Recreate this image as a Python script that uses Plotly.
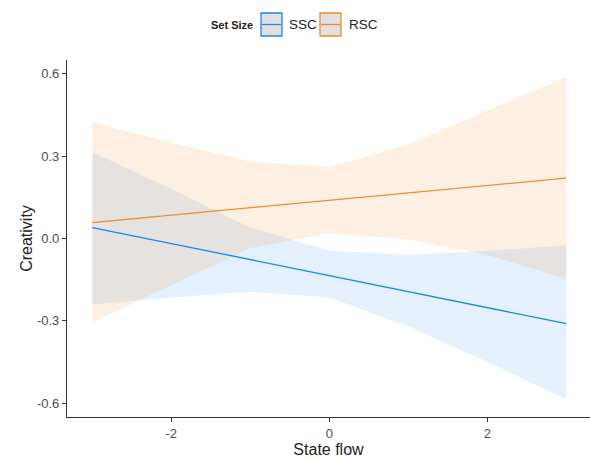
import plotly.graph_objects as go

# ---- data ----
x_vals = [-3, -2, -1, 0, 1, 2, 3]

ssc_fit = [0.040, -0.018, -0.077, -0.135, -0.193, -0.252, -0.310]
ssc_upper = [0.315, 0.180, 0.040, -0.045, -0.060, -0.045, -0.025]
ssc_lower = [-0.240, -0.215, -0.195, -0.215, -0.320, -0.450, -0.585]

rsc_fit = [0.058, 0.085, 0.112, 0.139, 0.166, 0.193, 0.220]
rsc_upper = [0.423, 0.350, 0.280, 0.260, 0.342, 0.465, 0.588]
rsc_lower = [-0.305, -0.170, -0.035, 0.020, -0.004, -0.060, -0.147]

y_ticks = [-0.6, -0.3, 0.0, 0.3, 0.6]
x_ticks = [-2, 0, 2]

legend_title = "Set Size"
groups = [
    ("SSC", ssc_fit, ssc_lower, ssc_upper, "#1E88E5", "rgba(30,136,229,0.12)"),
    ("RSC", rsc_fit, rsc_lower, rsc_upper, "#F28A2E", "rgba(245,135,40,0.13)"),
]

W, H = 590, 459
L, R, T, B = 67, 0, 60, 42
PW, PH = W - L - R, H - T - B


def px_x(p):
    return (p - L) / PW


def px_y(p):
    return (H - B - p) / PH


fig = go.Figure()

for name, fit, lo, up, col, fill in groups:
    fig.add_trace(go.Scatter(
        x=x_vals + x_vals[::-1], y=up + lo[::-1],
        fill="toself", fillcolor=fill, line=dict(width=0),
        mode="lines", hoverinfo="skip", showlegend=False,
    ))

for name, fit, lo, up, col, fill in groups:
    fig.add_trace(go.Scatter(
        x=x_vals, y=fit, mode="lines", name=name,
        line=dict(color=col, width=1.3), showlegend=False,
    ))

axis_common = dict(
    showgrid=False, zeroline=False, showline=True,
    linecolor="#333333", linewidth=1.2,
    ticks="outside", ticklen=4, tickcolor="#333333",
    tickfont=dict(family="Liberation Sans, Arial", size=13, color="#4D4D4D"),
    automargin=False,
)

# ---- legend drawn manually (ggplot-style keys) ----
shapes = []
annotations = [dict(
    x=px_x(209), y=px_y(25), xref="paper", yref="paper",
    xanchor="left", yanchor="middle", showarrow=False,
    text=f"<b>{legend_title}</b>",
    font=dict(family="Liberation Sans, Arial", size=11, color="#222222"),
)]
key_x = [261, 320]
text_x = [287, 347]
for (name, fit, lo, up, col, fill), kx, tx in zip(groups, key_x, text_x):
    shapes.append(dict(
        type="rect", xref="paper", yref="paper",
        x0=px_x(kx), x1=px_x(kx + 21), y0=px_y(13), y1=px_y(36),
        fillcolor="#E0E0E0", line=dict(color=col, width=1.3),
    ))
    shapes.append(dict(
        type="line", xref="paper", yref="paper",
        x0=px_x(kx + 1), x1=px_x(kx + 20), y0=px_y(24.5), y1=px_y(24.5),
        line=dict(color=col, width=1.3),
    ))
    annotations.append(dict(
        x=px_x(tx), y=px_y(25), xref="paper", yref="paper",
        xanchor="left", yanchor="middle", showarrow=False, text=name,
        font=dict(family="Liberation Sans, Arial", size=13.5, color="#222222"),
    ))

fig.update_layout(
    width=W, height=H,
    margin=dict(l=L, r=R, t=T, b=B, autoexpand=False),
    plot_bgcolor="white", paper_bgcolor="white",
    font=dict(family="Liberation Sans, Arial", color="#222222"),
    showlegend=False,
    xaxis=dict(range=[-3.32, 3.3], tickvals=x_ticks, ticktext=[str(v) for v in x_ticks],
               title=dict(text="State flow", font=dict(size=16, color="#222222"), standoff=2),
               **axis_common),
    yaxis=dict(range=[-0.65, 0.65], tickvals=y_ticks, ticktext=[f"{v:.1f}" for v in y_ticks],
               title=dict(text="Creativity", font=dict(size=16, color="#222222"), standoff=0),
               **axis_common),
    shapes=shapes,
    annotations=annotations,
)

fig.write_html(
    "out.html",
    config={"displayModeBar": False},
    post_script="document.body.style.margin='0';document.body.style.overflow='hidden';",
)
